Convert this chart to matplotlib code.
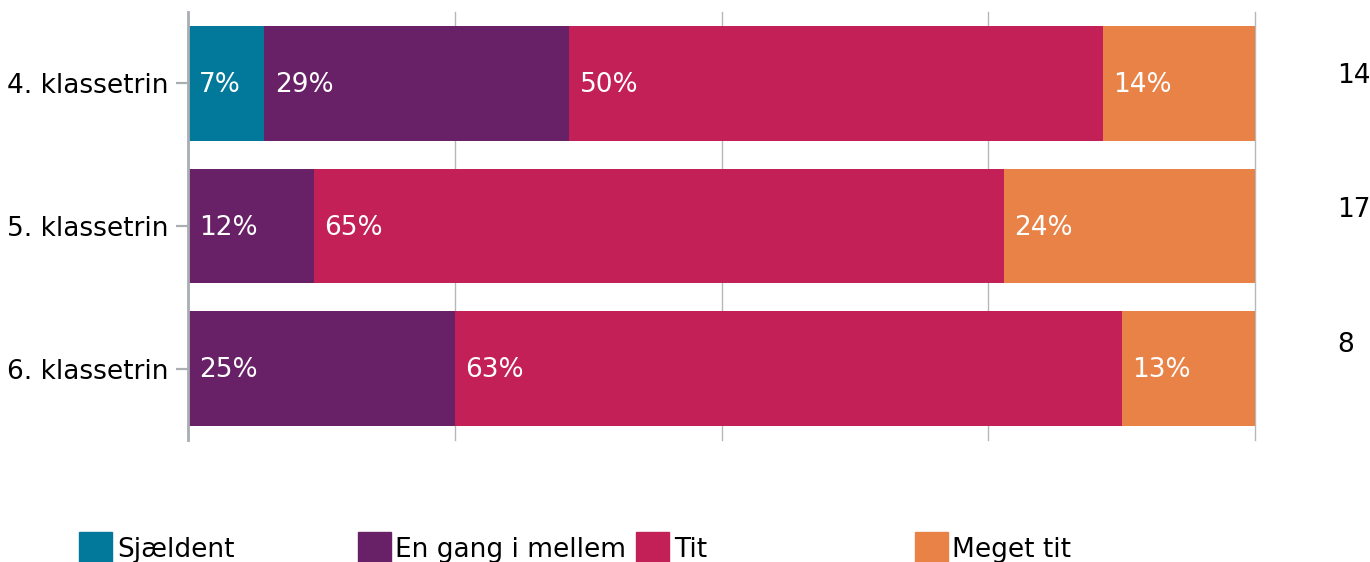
import numpy as np
import matplotlib
matplotlib.use("Agg")
import matplotlib.pyplot as plt
from matplotlib.patches import Rectangle

# answer counts per grade level (Sjældent, En gang i mellem, Tit, Meget tit)
grades = ["4. klassetrin", "5. klassetrin", "6. klassetrin"]
answers = ["Sjældent", "En gang i mellem", "Tit", "Meget tit"]
sjaeldent = [1, 0, 0]
en_gang = [4, 2, 2]
tit = [7, 11, 5]
meget_tit = [2, 4, 1]
colors = ["#02799A", "#682167", "#C32057", "#E98247"]

plt.rcParams["font.family"] = ["DejaVu Sans"]
FS = 19

counts = np.array([sjaeldent, en_gang, tit, meget_tit], dtype=float)
n_total = counts.sum(axis=0)
shares = counts / n_total * 100

fig = plt.figure(figsize=(13.7, 5.62), dpi=100)
ax = fig.add_axes([188 / 1370, 122 / 562, 1067 / 1370, 428 / 562])

y = np.arange(len(grades))
left = np.zeros(len(grades))
for k, name in enumerate(answers):
    vals = shares[k]
    ax.barh(y, vals, left=left, height=0.805, color=colors[k], zorder=2)
    for i, v in enumerate(vals):
        if counts[k, i] > 0:
            pct = int(np.floor(v + 0.5))
            ax.text(left[i] + 1.0, y[i] + 0.06, f"{pct}%", color="white",
                    fontsize=FS, va="baseline", ha="left", zorder=3)
    left += vals

# number of respondents to the right; this column sits a bit tighter than the bars
for i, n in enumerate(n_total):
    ax.text(107.7, i * 0.94, f"{int(n)}", fontsize=FS, va="baseline",
            ha="left", color="black", clip_on=False)

ax.set_xlim(0, 100)
ax.set_ylim(2.5, -0.5)
ax.set_xticks([0, 25, 50, 75, 100])
ax.set_xticklabels([])
ax.tick_params(axis="x", length=0)
ax.grid(axis="x", color="#B4B8BC", linewidth=1.0, zorder=1)
for gl in ax.get_xgridlines():
    gl.set_clip_on(False)
ax.set_yticks(y)
ax.set_yticklabels(grades, fontsize=FS)
ax.tick_params(axis="y", length=9, width=1.6, color="#A9AEB3", pad=5)
for side in ["top", "right", "bottom"]:
    ax.spines[side].set_visible(False)
ax.spines["left"].set_color("#A9AEB3")
ax.spines["left"].set_linewidth(2)
ax.spines["left"].set_zorder(4)

# legend with fixed-width columns along the bottom edge
for k, name in enumerate(answers):
    x0 = (79 + k * 278.5) / 1370
    fig.add_artist(Rectangle((x0, -2 / 562), 33 / 1370, 32 / 562,
                             transform=fig.transFigure, color=colors[k]))
    fig.text(x0 + 38 / 1370, 5 / 562, name, fontsize=FS, va="baseline",
             ha="left")

fig.savefig("out.png", dpi=100)
